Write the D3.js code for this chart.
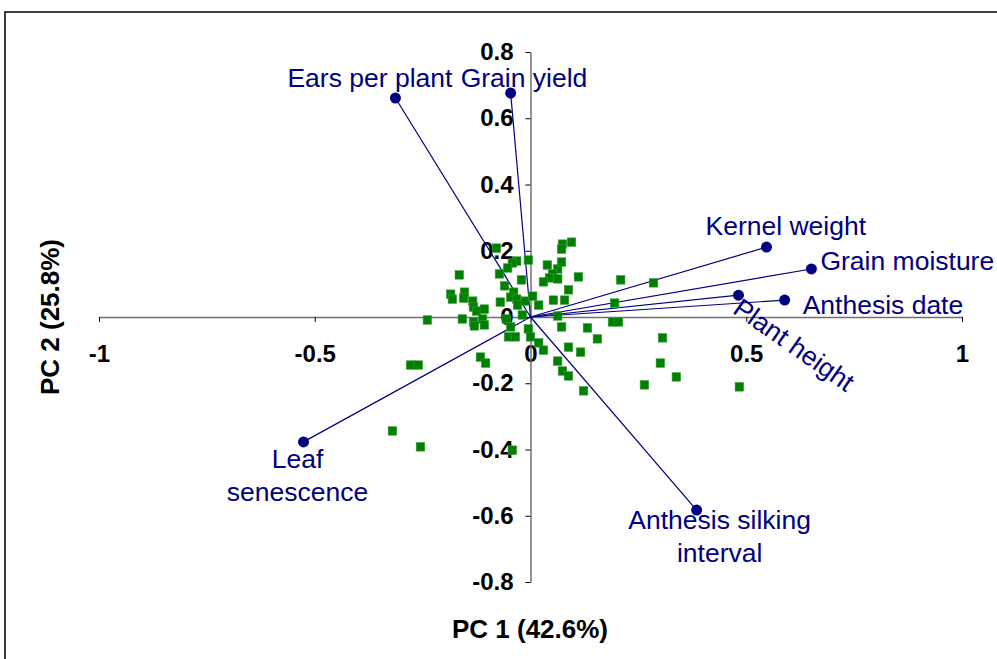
<!DOCTYPE html>
<html>
<head>
<meta charset="utf-8">
<script src="https://cdn.jsdelivr.net/npm/d3@7"></script>
<style>
  body { margin: 0; background: #fff; }
  svg text { font-family: "Liberation Sans", Arial, sans-serif; }
</style>
</head>
<body>
<svg id="chart" width="997" height="659"></svg>
<script>
// scores (green squares)
const scoreX = [-0.079, -0.032, -0.042, -0.005, -0.053, -0.072, -0.021, -0.165, -0.060, -0.185,
  -0.181, -0.153, -0.155, -0.134, -0.132, -0.125, -0.107, -0.070, -0.039, -0.046,
  -0.032, -0.030, -0.012, 0.005, 0.019, -0.158, -0.132, -0.111, -0.130, -0.107,
  -0.239, -0.056, -0.046, -0.019, -0.051, -0.035, -0.005, 0.000, 0.053, 0.079,
  0.063, 0.072, 0.039, 0.063, 0.051, 0.044, 0.030, 0.063, 0.072, 0.074,
  0.072, 0.095, 0.088, 0.111, 0.209, 0.285, 0.195, 0.190, 0.204, 0.132,
  0.155, 0.306, 0.301, 0.338, 0.264, 0.484, 0.019, 0.030, 0.088, 0.116,
  0.063, 0.074, 0.088, 0.123, -0.278, -0.260, -0.116, -0.104, -0.320, -0.255,
  -0.042];
const scoreY = [0.208, 0.169, 0.163, 0.172, 0.148, 0.130, 0.112, 0.127, 0.094, 0.069,
  0.054, 0.075, 0.057, 0.048, 0.030, 0.018, 0.024, 0.045, 0.075, 0.060,
  0.054, 0.036, 0.048, 0.063, 0.036, -0.006, -0.015, -0.006, -0.027, -0.024,
  -0.009, -0.006, -0.030, 0.006, -0.060, -0.060, -0.036, -0.060, 0.051, 0.051,
  0.003, -0.030, 0.157, 0.145, 0.130, 0.118, 0.106, 0.115, 0.166, 0.220,
  0.205, 0.226, 0.082, 0.121, 0.112, 0.103, 0.042, -0.015, -0.015, -0.033,
  -0.066, -0.063, -0.139, -0.181, -0.205, -0.211, -0.078, -0.100, -0.091, -0.106,
  -0.133, -0.163, -0.178, -0.223, -0.145, -0.145, -0.121, -0.139, -0.344, -0.392,
  -0.402];

// trait loadings (blue vectors)
const traits = ["Ears per plant", "Grain yield", "Kernel weight", "Grain moisture",
  "Plant height", "Anthesis date", "Anthesis silking interval", "Leaf senescence"];
const loadX = [-0.313, -0.046, 0.547, 0.651, 0.482, 0.589, 0.385, -0.526];
const loadY = [0.661, 0.676, 0.211, 0.145, 0.066, 0.051, -0.583, -0.377];

const xTicks = [-1, -0.5, 0, 0.5, 1];
const yTicks = [-0.8, -0.6, -0.4, -0.2, 0, 0.2, 0.4, 0.6, 0.8];

const svg = d3.select("#chart");
const navy = "#000080";
const green = "#008000";

// frame (cut off at right and bottom)
svg.append("rect")
  .attr("x", 5).attr("y", 12)
  .attr("width", 1000).attr("height", 700)
  .attr("fill", "none").attr("stroke", "#000").attr("stroke-width", 1.5);

var x = d3.scaleLinear().domain([-1, 1]).range([99, 962]);
var y = d3.scaleLinear().domain([-0.8, 0.8]).range([582, 52]);

function fmt(d) { return String(+d.toFixed(1)); }

// axes crossing at the origin
var gx = svg.append("g")
  .attr("transform", "translate(0," + y(0) + ")")
  .call(d3.axisBottom(x).tickValues(xTicks).tickFormat(fmt)
    .tickSize(5).tickSizeOuter(0).tickPadding(23));
var gy = svg.append("g")
  .attr("transform", "translate(" + x(0) + ",0)")
  .call(d3.axisLeft(y).tickValues(yTicks).tickFormat(fmt)
    .tickSize(5).tickSizeOuter(0).tickPadding(12));

[gx, gy].forEach(function (g) {
  g.select(".domain").attr("stroke", "#707070").attr("stroke-width", 1.5);
  g.selectAll(".tick line").attr("stroke", "#000");
  g.selectAll(".tick text")
    .attr("fill", "#000")
    .style("font-family", "'Liberation Sans', Arial, sans-serif")
    .style("font-size", "24px")
    .style("font-weight", "bold");
});

// axis titles
svg.append("text")
  .attr("x", 530).attr("y", 638)
  .attr("text-anchor", "middle")
  .style("font-size", "26px").style("font-weight", "bold")
  .text("PC 1 (42.6%)");
svg.append("text")
  .attr("transform", "translate(59,317)rotate(-90)")
  .attr("text-anchor", "middle")
  .style("font-size", "26px").style("font-weight", "bold")
  .text("PC 2 (25.8%)");

// vectors
const vecs = traits.map(function (t, i) { return { name: t, x: loadX[i], y: loadY[i] }; });

svg.selectAll(".vec")
  .data(vecs)
  .enter()
  .append("line")
  .attr("class", "vec")
  .attr("x1", x(0)).attr("y1", y(0))
  .attr("x2", function (d) { return x(d.x); })
  .attr("y2", function (d) { return y(d.y); })
  .attr("stroke", navy).attr("stroke-width", 1.2);

// scores
const pts = scoreX.map(function (v, i) { return { x: v, y: scoreY[i] }; });
svg.selectAll(".pt")
  .data(pts)
  .enter()
  .append("rect")
  .attr("class", "pt")
  .attr("x", function (d) { return x(d.x) - 4.25; })
  .attr("y", function (d) { return y(d.y) - 4.25; })
  .attr("width", 8.5).attr("height", 8.5)
  .attr("fill", green)
  .attr("stroke", "#3a9a3a").attr("stroke-width", 0.6);

svg.selectAll(".tip")
  .data(vecs)
  .enter()
  .append("circle")
  .attr("class", "tip")
  .attr("cx", function (d) { return x(d.x); })
  .attr("cy", function (d) { return y(d.y); })
  .attr("r", 5.5)
  .attr("fill", navy);

// trait labels: offsets from the vector tip, in pixels
const labelPos = {
  "Ears per plant": { dx: -108, dy: -11, lines: ["Ears per plant"], anchor: "start" },
  "Grain yield": { dx: -50, dy: -6, lines: ["Grain yield"], anchor: "start" },
  "Kernel weight": { dx: -61, dy: -12, lines: ["Kernel weight"], anchor: "start" },
  "Grain moisture": { dx: 9, dy: 1, lines: ["Grain moisture"], anchor: "start" },
  "Anthesis date": { dx: 18, dy: 14, lines: ["Anthesis date"], anchor: "start" },
  "Anthesis silking interval": { dx: 23, dy: 19, lines: ["Anthesis silking", "interval"], anchor: "middle" },
  "Leaf senescence": { dx: -6, dy: 26, lines: ["Leaf", "senescence"], anchor: "middle" }
};

vecs.forEach(function (d) {
  var px = x(d.x), py = y(d.y);
  if (d.name == "Plant height") {
    svg.append("text")
      .attr("transform", "translate(" + (px - 7) + "," + (py + 17) + ")rotate(35)")
      .attr("fill", navy)
      .style("font-size", "26.5px")
      .text(d.name);
    return;
  }
  var lp = labelPos[d.name];
  var t = svg.append("text")
    .attr("fill", navy)
    .attr("text-anchor", lp.anchor)
    .style("font-size", "26.5px");
  lp.lines.forEach(function (line, k) {
    t.append("tspan")
      .attr("x", px + lp.dx)
      .attr("y", py + lp.dy + k * 33)
      .text(line);
  });
});
</script>
</body>
</html>
